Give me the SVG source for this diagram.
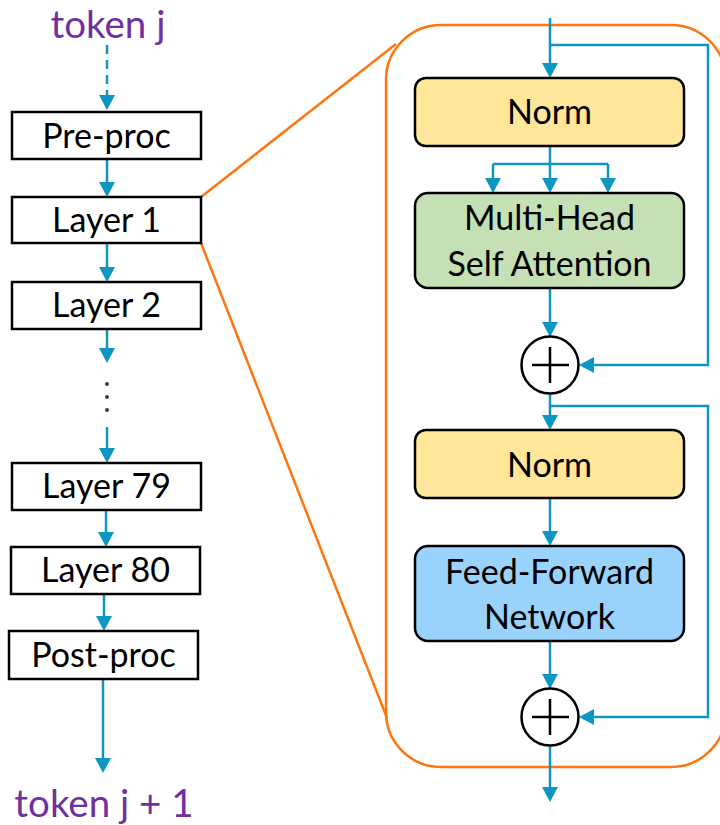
<svg xmlns="http://www.w3.org/2000/svg" width="720" height="825" viewBox="0 0 720 825">
  <style>
    .box { fill: #ffffff; stroke: #000000; stroke-width: 2.5; }
    .blk { stroke: #000000; stroke-width: 2.5; }
    .lbl { font-family: Lato, "Liberation Sans", sans-serif; font-size: 34px; fill: #000000; text-anchor: middle; }
    .tok { font-family: Lato, "Liberation Sans", sans-serif; font-size: 38.5px; fill: #7030A0; text-anchor: middle; }
    .wire { fill: none; stroke: #0E96C2; stroke-width: 2.5; }
    .arrow { marker-end: url(#head); }
    .zoom { fill: none; stroke: #FF7510; stroke-width: 2.5; }
  </style>
  <defs>
    <marker id="head" viewBox="0 0 15 16" refX="11" refY="8" markerWidth="15" markerHeight="16" markerUnits="userSpaceOnUse" orient="auto">
      <path d="M0,0 L15,8 L0,16 z" fill="#0E96C2"/>
    </marker>
  </defs>
  <rect width="720" height="825" fill="#ffffff"/>

  <!-- expansion outline of one layer -->
  <g id="layer-detail-frame">
    <rect class="zoom" x="386" y="25" width="340" height="742" rx="55"/>
    <line class="zoom" x1="201" y1="197" x2="396" y2="44"/>
    <line class="zoom" x1="201" y1="243" x2="387" y2="718"/>
  </g>

  <!-- connectors -->
  <g id="connectors">
    <line class="wire arrow" x1="107" y1="45" x2="107" y2="106" stroke-dasharray="9,6"/>
    <line class="wire arrow" x1="107" y1="159" x2="107" y2="193"/>
    <line class="wire arrow" x1="107" y1="243" x2="107" y2="278"/>
    <line class="wire arrow" x1="107" y1="329" x2="107" y2="359"/>
    <line class="wire arrow" x1="107" y1="427" x2="107" y2="459"/>
    <line class="wire arrow" x1="106" y1="510" x2="106" y2="543"/>
    <line class="wire arrow" x1="104" y1="594" x2="104" y2="627"/>
    <line class="wire arrow" x1="103" y1="679" x2="103" y2="769"/>

    <!-- inside the layer -->
    <line class="wire arrow" x1="550" y1="18" x2="550" y2="74"/>
    <polyline class="wire arrow" points="550,45 708,45 708,365 583,365"/>
    <line class="wire" x1="550" y1="146" x2="550" y2="164"/>
    <line class="wire" x1="493" y1="164" x2="608" y2="164"/>
    <line class="wire arrow" x1="493" y1="164" x2="493" y2="189"/>
    <line class="wire arrow" x1="550" y1="164" x2="550" y2="189"/>
    <line class="wire arrow" x1="608" y1="164" x2="608" y2="189"/>
    <line class="wire arrow" x1="550" y1="288" x2="550" y2="333"/>
    <line class="wire arrow" x1="550" y1="393" x2="550" y2="426"/>
    <polyline class="wire arrow" points="550,406 708,406 708,717 583,717"/>
    <line class="wire arrow" x1="550" y1="498" x2="550" y2="542"/>
    <line class="wire arrow" x1="550" y1="641" x2="550" y2="685"/>
    <line class="wire arrow" x1="550" y1="745" x2="550" y2="798"/>
  </g>

  <g id="token-in">
    <text class="tok" x="108" y="38">token j</text>
  </g>
  <g id="pre-proc">
    <rect class="box" x="12" y="112" width="189" height="47"/>
    <text class="lbl" x="106.5" y="148">Pre-proc</text>
  </g>
  <g id="layer-1">
    <rect class="box" x="12" y="197" width="189" height="46"/>
    <text class="lbl" x="106.5" y="232">Layer 1</text>
  </g>
  <g id="layer-2">
    <rect class="box" x="12" y="282" width="189" height="47"/>
    <text class="lbl" x="106.5" y="317">Layer 2</text>
  </g>
  <g id="ellipsis">
    <circle cx="107" cy="384" r="2" fill="#3A3F4F"/>
    <circle cx="107" cy="397" r="2" fill="#3A3F4F"/>
    <circle cx="107" cy="410" r="2" fill="#3A3F4F"/>
  </g>
  <g id="layer-79">
    <rect class="box" x="12" y="463" width="189" height="47"/>
    <text class="lbl" x="106.5" y="498">Layer 79</text>
  </g>
  <g id="layer-80">
    <rect class="box" x="11" y="547" width="189" height="47"/>
    <text class="lbl" x="105.5" y="582">Layer 80</text>
  </g>
  <g id="post-proc">
    <rect class="box" x="9" y="631" width="189" height="48"/>
    <text class="lbl" x="103.5" y="667">Post-proc</text>
  </g>
  <g id="token-out">
    <text class="tok" x="104" y="817">token j + 1</text>
  </g>

  <g id="norm-1">
    <rect class="blk" x="415" y="78" width="269" height="68" rx="11" fill="#FFE699"/>
    <text class="lbl" x="549.5" y="124">Norm</text>
  </g>
  <g id="self-attention">
    <rect class="blk" x="415" y="193" width="269" height="95" rx="13" fill="#C5E0B4"/>
    <text class="lbl" x="549.5" y="230">Multi-Head</text>
    <text class="lbl" x="549.5" y="276">Self Attention</text>
  </g>
  <g id="add-1">
    <circle class="blk" cx="550" cy="365" r="28.5" fill="#ffffff"/>
    <path class="blk" d="M532,365 H569 M550,347 V383" stroke-width="2"/>
  </g>
  <g id="norm-2">
    <rect class="blk" x="415" y="430" width="269" height="68" rx="11" fill="#FFE699"/>
    <text class="lbl" x="549.5" y="477">Norm</text>
  </g>
  <g id="feed-forward">
    <rect class="blk" x="415" y="546" width="269" height="95" rx="13" fill="#99D2FB"/>
    <text class="lbl" x="549.5" y="584">Feed-Forward</text>
    <text class="lbl" x="549.5" y="629">Network</text>
  </g>
  <g id="add-2">
    <circle class="blk" cx="550" cy="717" r="28.5" fill="#ffffff"/>
    <path class="blk" d="M532,717 H569 M550,699 V735" stroke-width="2"/>
  </g>
</svg>
